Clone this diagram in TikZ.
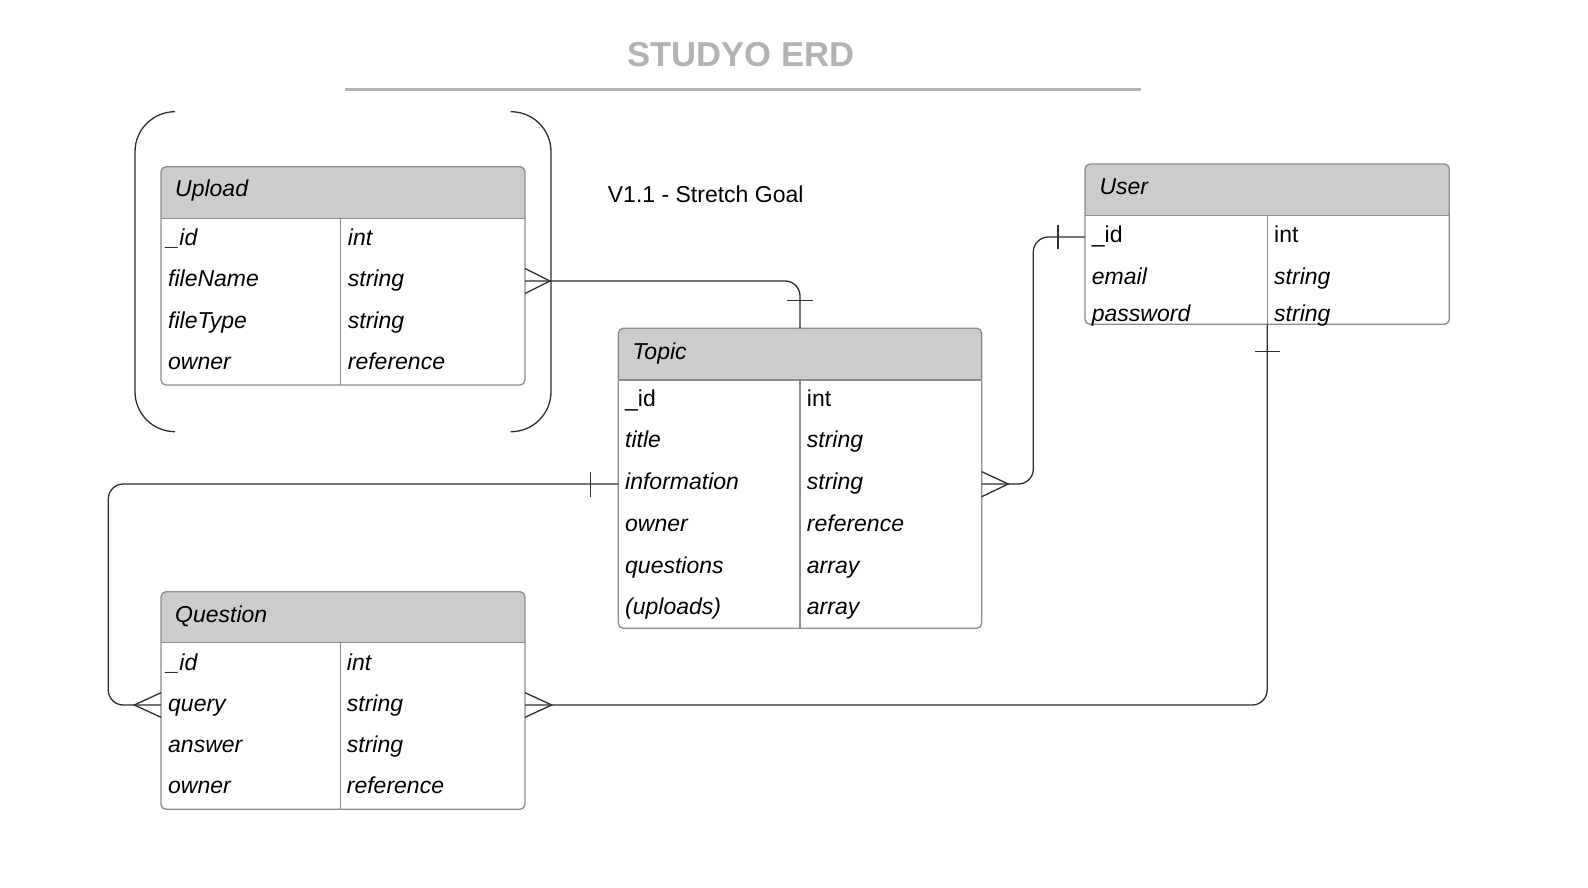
\documentclass[tikz,border=0pt]{standalone}
\usepackage{fontspec}
\setmainfont{Liberation Sans}
\usetikzlibrary{calc}
\definecolor{hdr}{HTML}{CCCCCC}
\definecolor{bord}{HTML}{8C8C8C}
\definecolor{ttl}{HTML}{B3B3B3}
\definecolor{ink}{HTML}{2E2E2E}
\newcommand\erdtab[7]{%
  \begin{scope}
    \clip[rounded corners=5pt] (#2,#3) rectangle (#4,#5);
    \fill[hdr] (#2,#3) rectangle (#4,#6);
  \end{scope}
  \node[tbl, anchor=north west, minimum width={#4-#2}, minimum height={#5-#3}] (#1) at (#2,#3) {};
  \draw[tline] (#2,#6) -- (#4,#6);
  \draw[tline] (#7,#6) -- (#7,#5);
}
\begin{document}
\begin{tikzpicture}[x=1pt,y=-1pt,
  tbl/.style={draw=bord, line width=1.3pt, rounded corners=5pt, inner sep=0pt, outer sep=0pt},
  tline/.style={draw=bord, line width=1.3pt},
  conn/.style={draw=ink, line width=1.3pt, rounded corners=15pt},
  erline/.style={draw=ink, line width=1.3pt},
  txt/.style={anchor=base west, inner sep=0pt, font=\fontsize{23}{27}\selectfont},
  itxt/.style={anchor=base west, inner sep=0pt, font=\fontsize{23}{27}\selectfont\itshape},
]
\useasboundingbox[fill=white] (0,0) rectangle (1588,888);

% title
\node[font=\bfseries\fontsize{34.6}{40}\selectfont, text=ttl, inner sep=0pt] (title) at (741,55) {STUDYO ERD};
\coordinate (tl1) at (345,90);
\coordinate (tl2) at (1141,90);
\draw[draw=ttl, line width=3pt] (tl1) -- (tl2);
\node[txt] (v11) at (607.7,202.5) {V1.1 - Stretch Goal};

% bracket around Upload
\draw[erline, rounded corners=40pt] (175,111.7) -- (135,111.7) -- (135,431.7) -- (175,431.7);
\draw[erline, rounded corners=40pt] (510.7,111.7) -- (551,111.7) -- (551,431.7) -- (510.7,431.7);

% tables
\erdtab{upload}{161}{166.7}{525}{385}{218.3}{340.7}
\erdtab{topic}{618.3}{328.3}{981.7}{628.3}{380}{800}
\erdtab{user}{1085}{164}{1449.3}{324.3}{215.7}{1267.3}
\erdtab{question}{161}{591.7}{525}{809.3}{642.7}{340.7}

% Upload text
\node[itxt] (uh) at (175,196.3) {Upload};
\node[itxt] (u1a) at (166.5,245.5) {\_id};
\node[itxt] (u1b) at (347.7,245.5) {int};
\node[itxt] (u2a) at (168,286.8) {fileName};
\node[itxt] (u2b) at (347.7,286.8) {string};
\node[itxt] (u3a) at (168,328.1) {fileType};
\node[itxt] (u3b) at (347.7,328.1) {string};
\node[itxt] (u4a) at (168,369.4) {owner};
\node[itxt] (u4b) at (347.7,369.4) {reference};

% Topic text
\node[itxt] (th) at (632.3,359) {Topic};
\node[txt] (t1a) at (625,406) {\_id};
\node[txt] (t1b) at (806.7,406) {int};
\node[itxt] (t2a) at (625,447.8) {title};
\node[itxt] (t2b) at (806.7,447.8) {string};
\node[itxt] (t3a) at (625,489.6) {information};
\node[itxt] (t3b) at (806.7,489.6) {string};
\node[itxt] (t4a) at (625,531.4) {owner};
\node[itxt] (t4b) at (806.7,531.4) {reference};
\node[itxt] (t5a) at (625,573.2) {questions};
\node[itxt] (t5b) at (806.7,573.2) {array};
\node[itxt] (t6a) at (625,614.5) {(uploads)};
\node[itxt] (t6b) at (806.7,614.5) {array};

% User text
\node[itxt] (sh) at (1099.3,194.5) {User};
\node[txt] (s1a) at (1091.7,242.5) {\_id};
\node[txt] (s1b) at (1274,242.5) {int};
\node[itxt] (s2a) at (1091.7,284.5) {email};
\node[itxt] (s2b) at (1274,284.5) {string};
\node[itxt] (s3a) at (1091.7,321.5) {password};
\node[itxt] (s3b) at (1274,321.5) {string};

% Question text
\node[itxt] (qh) at (175,622.3) {Question};
\node[itxt] (q1a) at (166.5,670.3) {\_id};
\node[itxt] (q1b) at (346.7,670.3) {int};
\node[itxt] (q2a) at (168,711.5) {query};
\node[itxt] (q2b) at (346.7,711.5) {string};
\node[itxt] (q3a) at (168,752.7) {answer};
\node[itxt] (q3b) at (346.7,752.7) {string};
\node[itxt] (q4a) at (168,793.9) {owner};
\node[itxt] (q4b) at (346.7,793.9) {reference};

% connector end points
\coordinate (uR) at (525,281);
\coordinate (tR) at (981.7,484);
\coordinate (tL) at (618.3,484);
\coordinate (sL) at (1085,237);
\coordinate (qL) at (161,705);
\coordinate (qR) at (525,705);

% connectors
\draw[conn] (uR) -| (topic.north);
\draw[conn] (tR) -- (1033.3,484) |- (sL);
\draw[conn] (tL) -- (108.3,484) |- (qL);
\draw[conn] (qR) -| (user.south);

% bars (one)
\draw[erline] (787,300.7) -- (813,300.7);
\draw[erline] (1058,224.5) -- (1058,249);
\draw[erline] (590.5,472) -- (590.5,496.5);
\draw[erline] (1255,351.7) -- (1280,351.7);

% crow's feet (many)
\draw[erline] (525,268.5) -- (550,281) -- (525,293.5);
\draw[erline] (981.7,471.7) -- (1008.3,484) -- (981.7,496.7);
\draw[erline] (161,692.7) -- (134.3,705) -- (161,717.3);
\draw[erline] (525,692.7) -- (551.7,705) -- (525,717.3);
\end{tikzpicture}
\end{document}
